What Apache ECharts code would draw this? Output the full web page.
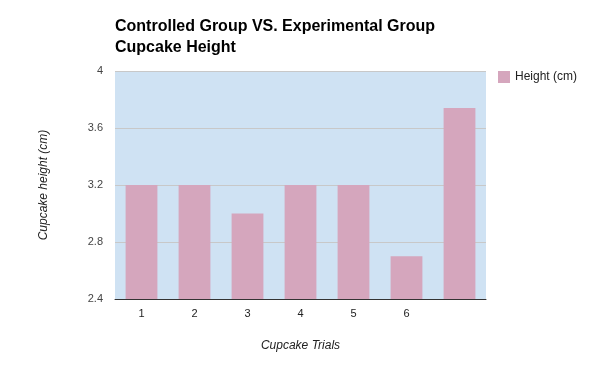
<!DOCTYPE html>
<html><head><meta charset="utf-8">
<script src="https://cdn.jsdelivr.net/npm/echarts@6/dist/echarts.min.js"></script>
<style>html,body{margin:0;padding:0;background:#fff}#c{width:600px;height:371px}</style>
</head><body><div id="c"></div>
<script>
const categories = ['1','2','3','4','5','6',''];
const heights = [3.2, 3.2, 3.0, 3.2, 3.2, 2.7, 3.74];
const yTicks = {min: 2.4, max: 4, interval: 0.4};
const seriesName = 'Height (cm)';
const chart = echarts.init(document.getElementById('c'));
chart.setOption({
  animation: false,
  title: {
    text: 'Controlled Group VS. Experimental Group\nCupcake Height',
    left: 110, top: 11,
    textStyle: {fontFamily: 'Liberation Sans, Arial', fontWeight: 'bold', fontSize: 16, color: '#000', lineHeight: 21}
  },
  legend: {
    data: [seriesName], left: 493, top: 66, orient: 'vertical',
    icon: 'rect', itemWidth: 12, itemHeight: 12, itemGap: 5,
    textStyle: {fontFamily: 'Liberation Sans, Arial', fontSize: 12, color: '#222'}
  },
  grid: {left: 115, top: 71, width: 371, height: 228, show: true, backgroundColor: '#cfe2f3', borderWidth: 0},
  xAxis: {
    type: 'category', data: categories,
    name: 'Cupcake Trials', nameLocation: 'middle', nameGap: 41,
    nameTextStyle: {fontFamily: 'Liberation Sans, Arial', fontStyle: 'italic', fontSize: 12, color: '#222'},
    axisLine: {lineStyle: {color: '#333', width: 1}},
    axisTick: {show: false},
    axisLabel: {fontFamily: 'Liberation Sans, Arial', fontSize: 11, color: '#222', margin: 9}
  },
  yAxis: {
    type: 'value', min: yTicks.min, max: yTicks.max, interval: yTicks.interval,
    name: 'Cupcake height (cm)', nameLocation: 'middle', nameGap: 65, nameRotate: 90,
    nameTextStyle: {fontFamily: 'Liberation Sans, Arial', fontStyle: 'italic', fontSize: 12, color: '#222'},
    axisLine: {show: false}, axisTick: {show: false},
    splitLine: {lineStyle: {color: '#c8c8c8', width: 1}},
    axisLabel: {fontFamily: 'Liberation Sans, Arial', fontSize: 11, color: '#444', margin: 12,
      formatter: v => String(parseFloat(v.toFixed(1)))}
  },
  series: [{
    name: seriesName, type: 'bar', data: heights, barWidth: '60%',
    itemStyle: {color: '#d5a6bd'}
  }]
});
</script></body></html>
